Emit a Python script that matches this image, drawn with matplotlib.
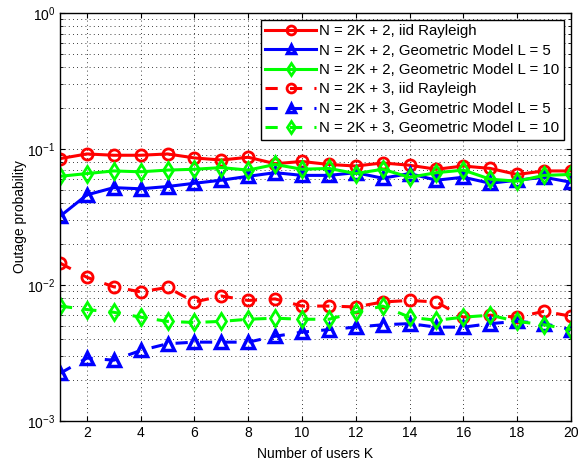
import matplotlib
matplotlib.use('Agg')
import matplotlib.pyplot as plt
import numpy as np

plt.rcParams['font.family'] = ['Liberation Sans', 'DejaVu Sans']

K = list(range(1, 21))

# N = 2K + 2
iid_2 = [0.085, 0.092, 0.090, 0.090, 0.092, 0.086, 0.083, 0.087, 0.078, 0.081,
         0.077, 0.075, 0.079, 0.076, 0.071, 0.075, 0.072, 0.065, 0.069, 0.069]
geo5_2 = [0.032, 0.046, 0.052, 0.051, 0.053, 0.056, 0.059, 0.063, 0.067, 0.064,
          0.064, 0.067, 0.061, 0.066, 0.059, 0.062, 0.056, 0.059, 0.062, 0.057]
geo10_2 = [0.063, 0.066, 0.069, 0.068, 0.070, 0.071, 0.073, 0.070, 0.077, 0.071,
           0.072, 0.066, 0.071, 0.062, 0.067, 0.070, 0.060, 0.058, 0.064, 0.065]

# N = 2K + 3
iid_3 = [0.0145, 0.0114, 0.0097, 0.0089, 0.0096, 0.0075, 0.0083, 0.0077, 0.0079, 0.0070,
         0.0070, 0.0069, 0.0075, 0.0077, 0.0075, 0.0058, 0.0060, 0.0058, 0.0064, 0.0059]
geo5_3 = [0.00224, 0.0029, 0.0028, 0.0033, 0.0037, 0.0038, 0.0038, 0.0038, 0.0042, 0.0045,
          0.0047, 0.0049, 0.0051, 0.0052, 0.0049, 0.0049, 0.0052, 0.0054, 0.0052, 0.0047]
geo10_3 = [0.0070, 0.0066, 0.0063, 0.0058, 0.0054, 0.0053, 0.0054, 0.0056, 0.0057, 0.0056,
           0.0056, 0.0063, 0.0070, 0.0058, 0.0055, 0.0058, 0.0060, 0.0054, 0.0051, 0.0047]

labels = ['N = 2K + 2, iid Rayleigh',
          'N = 2K + 2, Geometric Model L = 5',
          'N = 2K + 2, Geometric Model L = 10',
          'N = 2K + 3, iid Rayleigh',
          'N = 2K + 3, Geometric Model L = 5',
          'N = 2K + 3, Geometric Model L = 10']

fig = plt.figure(figsize=(5.79, 4.66), dpi=100)
ax = fig.add_axes([0.1036, 0.0966, 0.8824, 0.8754])

red = '#ff0000'
blue = '#0000ff'
green = '#00ff00'
lw = 2.2
ms = 8

ax.semilogy(K, iid_2, '-o', color=red, lw=lw, ms=ms, mfc='none', mew=2, label=labels[0])
ax.semilogy(K, geo5_2, '-^', color=blue, lw=lw, ms=ms, mfc='none', mew=2.5, label=labels[1])
ax.semilogy(K, geo10_2, '-d', color=green, lw=lw, ms=ms, mfc='none', mew=2, label=labels[2])
ax.semilogy(K, iid_3, '--o', color=red, lw=lw, ms=ms, mfc='none', mew=2, dashes=(4, 4), label=labels[3])
ax.semilogy(K, geo5_3, '--^', color=blue, lw=lw, ms=ms, mfc='none', mew=2.5, dashes=(4, 4), label=labels[4])
ax.semilogy(K, geo10_3, '--d', color=green, lw=lw, ms=ms, mfc='none', mew=2, dashes=(4, 4), label=labels[5])

ax.set_xlim(1, 20)
ax.set_ylim(1e-3, 1)
ax.set_xticks(range(2, 21, 2))
ax.grid(True, which='major', axis='both', linestyle=(0, (1, 4)), color='k', lw=0.6)
ax.grid(True, which='minor', axis='y', linestyle=(0, (1, 4)), color='k', lw=0.6)
ax.tick_params(which='both', direction='in', top=True, right=True, labelsize=10)
for s in ax.spines.values():
    s.set_linewidth(1.0)

ax.set_xlabel('Number of users K', fontsize=10, labelpad=5)
ax.set_ylabel('Outage probability', fontsize=10, labelpad=0)

leg = ax.legend(loc='upper right', fontsize=10.8, fancybox=False, framealpha=1,
                edgecolor='k', borderaxespad=0.45, handlelength=3.4, markerscale=0.8,
                handletextpad=0.2, labelspacing=0.36, borderpad=0.3)
leg.get_frame().set_linewidth(1.0)

fig.savefig('out.png', dpi=100)
